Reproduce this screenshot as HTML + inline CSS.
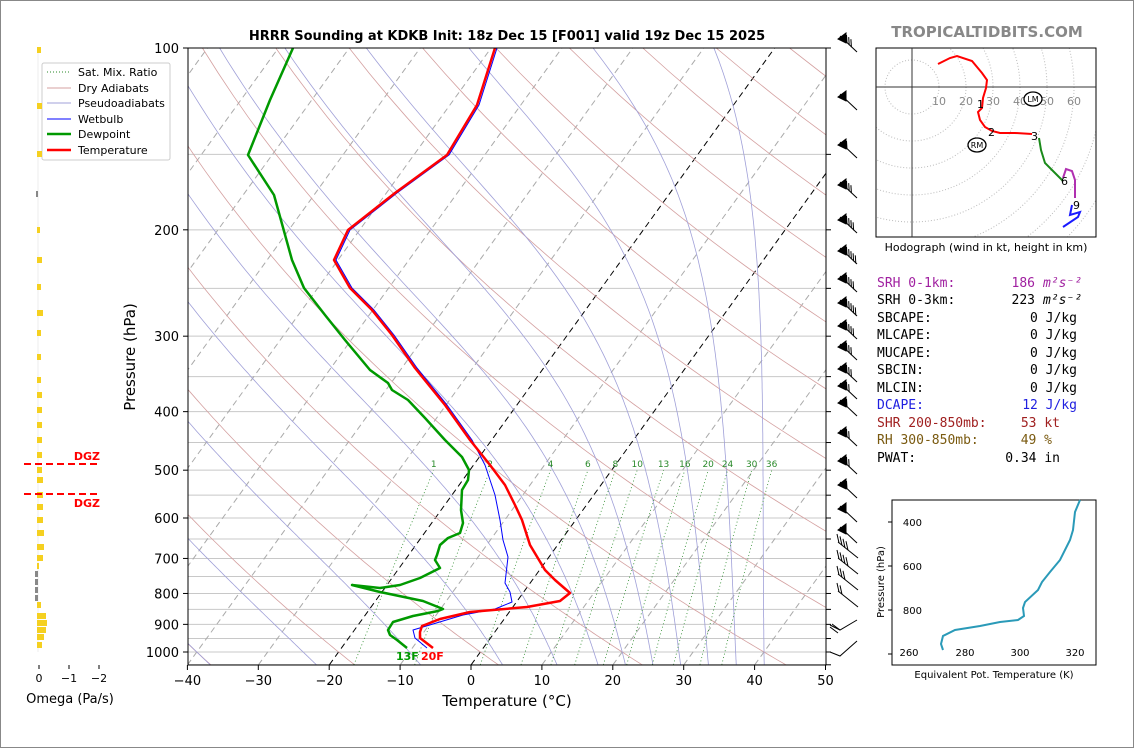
<!DOCTYPE html>
<html><head><meta charset="utf-8"><style>
body{margin:0;background:#fff;}
svg{display:block;font-family:"DejaVu Sans","Liberation Sans",sans-serif;}
</style></head><body>
<svg id="s" width="1134" height="748" viewBox="0 0 1134 748" xmlns="http://www.w3.org/2000/svg">
<rect x="0.5" y="0.5" width="1133" height="747" fill="#fff" stroke="#888"/>
<defs><clipPath id="cp"><rect x="188" y="48" width="638" height="617"/></clipPath></defs>
<g id="bg" clip-path="url(#cp)"></g>
<g clip-path="url(#cp)" fill="none" stroke-linejoin="round">
<polyline stroke="#0000ff" stroke-width="1" points="497,48 479,105 449,155 397,193 350,230 336,260 352,288 374,310 394,335 417,368 447,405 472,440 485,465 495,495 500,520 503,540 508,557 505,583 510,592 512,602 495,609 463,615 413,630 415,638 427,648"/>
<polyline stroke="#009900" stroke-width="2.5" points="293,48 270,100 248,155 274,195 292,260 304,288 325,315 345,340 370,370 388,383 392,390 408,400 425,418 445,440 462,457 469,470 468,480 462,490 461,510 463,523 460,533 448,538 440,545 437,555 435,560 440,568 420,578 400,585 380,588 352,585 380,592 423,601 443,609 438,611 413,616 393,622 388,630 390,635 397,640 407,648"/>
<polyline stroke="#ff0000" stroke-width="2.5" points="495,48 477,105 447,155 395,193 348,230 334,260 350,288 372,310 392,335 415,368 445,405 470,440 490,465 505,485 515,505 522,520 530,545 545,570 555,580 570,593 560,601 527,607 470,612 440,619 422,626 420,632 420,638 433,648"/>
</g>
<rect x="188" y="48" width="638" height="617" fill="none" stroke="#000" stroke-width="1"/>
<g id="ax" font-size="13" fill="#000"></g>
<text x="507" y="40" font-size="13" font-weight="bold" text-anchor="middle">HRRR Sounding at KDKB Init: 18z Dec 15 [F001] valid 19z Dec 15 2025</text>
<text x="507" y="706" font-size="15" text-anchor="middle">Temperature (°C)</text>
<text transform="translate(135,357) rotate(-90)" font-size="15" text-anchor="middle">Pressure (hPa)</text>
<text x="396" y="660" font-size="11" font-weight="bold" fill="#009900">13F</text>
<text x="421" y="660" font-size="11" font-weight="bold" fill="#ff0000">20F</text>
<g font-size="11">
<rect x="42" y="63" width="128" height="97" fill="#fff" stroke="#ccc" rx="2"/>
<line x1="47" y1="72" x2="71" y2="72" stroke="#2a8a2a" stroke-dasharray="1,2"/><text x="78" y="76">Sat. Mix. Ratio</text>
<line x1="47" y1="88" x2="71" y2="88" stroke="#d4a0a0"/><text x="78" y="92">Dry Adiabats</text>
<line x1="47" y1="103" x2="71" y2="103" stroke="#a0a0d8"/><text x="78" y="107">Pseudoadiabats</text>
<line x1="47" y1="119" x2="71" y2="119" stroke="#0000ff"/><text x="78" y="123">Wetbulb</text>
<line x1="47" y1="134" x2="71" y2="134" stroke="#009900" stroke-width="2.5"/><text x="78" y="138">Dewpoint</text>
<line x1="47" y1="150" x2="71" y2="150" stroke="#ff0000" stroke-width="2.5"/><text x="78" y="154">Temperature</text>
</g>
<g id="om"></g>
<line x1="24" y1="464" x2="99" y2="464" stroke="#f00" stroke-width="2" stroke-dasharray="7,4"/>
<line x1="24" y1="494" x2="99" y2="494" stroke="#f00" stroke-width="2" stroke-dasharray="7,4"/>
<text x="100" y="460" font-size="11" font-weight="bold" fill="#f00" text-anchor="end">DGZ</text>
<text x="100" y="507" font-size="11" font-weight="bold" fill="#f00" text-anchor="end">DGZ</text>
<g font-size="11" text-anchor="middle"><line x1="39" y1="665" x2="39" y2="669" stroke="#000"/><line x1="69" y1="665" x2="69" y2="669" stroke="#000"/><line x1="99" y1="665" x2="99" y2="669" stroke="#000"/>
<text x="39" y="682">0</text><text x="69" y="682">−1</text><text x="99" y="682">−2</text></g>
<text x="70" y="703" font-size="13" text-anchor="middle">Omega (Pa/s)</text>
<g id="barbs" stroke="#000" stroke-width="1" fill="#000"></g>
<text x="987" y="37" font-size="15" font-weight="bold" fill="#888" text-anchor="middle">TROPICALTIDBITS.COM</text>
<svg x="876" y="48" width="220" height="189" overflow="hidden"><g id="rings" fill="none" stroke="#bbb" stroke-dasharray="1,2"></g></svg>
<rect x="876" y="48" width="220" height="189" fill="none" stroke="#000"/>
<line x1="912" y1="48" x2="912" y2="237" stroke="#333"/><line x1="876" y1="87" x2="1096" y2="87" stroke="#333"/>
<g font-size="11" fill="#888" text-anchor="middle"><text x="939" y="105">10</text><text x="966" y="105">20</text><text x="993" y="105">30</text><text x="1020" y="105">40</text><text x="1047" y="105">50</text><text x="1074" y="105">60</text></g>
<g fill="none" stroke-width="2">
<polyline stroke="#f00" points="938,64 950,58 957,56 972,61 982,73 987,80 986,88 983,98 982,108 978,112 980,120 985,127 992,131 1000,133 1015,133 1032,134"/>
<polyline stroke="#1a8a1a" points="1039,138 1041,150 1045,163 1056,174 1063,181"/>
<polyline stroke="#b030b0" points="1063,178 1066,169 1072,171 1075,180 1075,198"/>
<polyline stroke="#1a1aff" points="1072,205 1070,215 1080,212 1078,217 1063,227"/>
</g>
<g font-size="11"><text x="977" y="108">1</text><text x="988" y="136">2</text><text x="1031" y="140">3</text><text x="1061" y="185">6</text><text x="1073" y="209">9</text></g>
<ellipse cx="1033" cy="99" rx="9" ry="7" fill="#fff" stroke="#000" stroke-width="1.3"/><text x="1033" y="102" font-size="8" text-anchor="middle">LM</text>
<ellipse cx="977" cy="145" rx="9" ry="7" fill="#fff" stroke="#000" stroke-width="1.3"/><text x="977" y="148" font-size="8" text-anchor="middle">RM</text>
<text x="986" y="251" font-size="11" text-anchor="middle">Hodograph (wind in kt, height in km)</text>
<g font-family="'DejaVu Sans Mono','Liberation Mono',monospace" font-size="13">
<text x="877" y="287" fill="#a020a0">SRH 0-1km:</text><text x="1035" y="287" fill="#a020a0" text-anchor="end">186</text><text x="1043" y="287" fill="#a020a0" font-style="italic">m²s⁻²</text>
<text x="877" y="304">SRH 0-3km:</text><text x="1035" y="304" text-anchor="end">223</text><text x="1043" y="304" font-style="italic">m²s⁻²</text>
<text x="877" y="322">SBCAPE:</text><text x="1077" y="322" text-anchor="end">0 J/kg</text>
<text x="877" y="339">MLCAPE:</text><text x="1077" y="339" text-anchor="end">0 J/kg</text>
<text x="877" y="357">MUCAPE:</text><text x="1077" y="357" text-anchor="end">0 J/kg</text>
<text x="877" y="374">SBCIN:</text><text x="1077" y="374" text-anchor="end">0 J/kg</text>
<text x="877" y="392">MLCIN:</text><text x="1077" y="392" text-anchor="end">0 J/kg</text>
<text x="877" y="409" fill="#2020e0">DCAPE:</text><text x="1077" y="409" fill="#2020e0" text-anchor="end">12 J/kg</text>
<text x="877" y="427" fill="#a02020">SHR 200-850mb:</text><text x="1060" y="427" fill="#a02020" text-anchor="end">53 kt</text>
<text x="877" y="444" fill="#7a5a10">RH 300-850mb:</text><text x="1052" y="444" fill="#7a5a10" text-anchor="end">49 %</text>
<text x="877" y="462">PWAT:</text><text x="1060" y="462" text-anchor="end">0.34 in</text>
</g>
<rect x="892" y="500" width="204" height="165" fill="#fff" stroke="#000"/>
<polyline fill="none" stroke="#2a9ab8" stroke-width="2" points="1080,500 1075,512 1073,530 1070,540 1060,560 1050,572 1042,582 1038,590 1025,602 1023,608 1024,616 1018,620 1000,622 980,626 955,630 943,636 941,644 943,650"/>
<g font-size="10" text-anchor="end"><text x="922" y="526">400</text><text x="922" y="570">600</text><text x="922" y="614">800</text>
<line x1="888" y1="522" x2="892" y2="522" stroke="#000"/><line x1="888" y1="566" x2="892" y2="566" stroke="#000"/><line x1="888" y1="610" x2="892" y2="610" stroke="#000"/><line x1="888" y1="654" x2="892" y2="654" stroke="#000"/></g>
<g font-size="10" text-anchor="middle"><text x="909" y="656">260</text><text x="965" y="656">280</text><text x="1020" y="656">300</text><text x="1075" y="656">320</text></g>
<text x="994" y="678" font-size="10" text-anchor="middle">Equivalent Pot. Temperature (K)</text>
<text transform="translate(884,582) rotate(-90)" font-size="10" text-anchor="middle">Pressure (hPa)</text>
</svg>
<script>
(function(){
var NS="http://www.w3.org/2000/svg";
function el(p,t,a){var e=document.createElementNS(NS,t);for(var k in a)e.setAttribute(k,a[k]);p.appendChild(e);return e;}
function Y(p){return 48+604*Math.log10(p/100);}
function X(T,p){return 471+7.09*T+0.722*(665-Y(p));}
var bg=document.getElementById('bg');
for(var p=100;p<=1050;p+=50){el(bg,'line',{x1:188,x2:826,y1:Y(p),y2:Y(p),stroke:'#c8c8c8','stroke-width':1});}
for(var T=-120;T<=50;T+=10){var a=X(T,1050),b=X(T,100);
 var blk=(T==0||T==-20);
 el(bg,'line',{x1:a,y1:Y(1050),x2:b,y2:Y(100),stroke:blk?'#000':'#aaa','stroke-width':1,'stroke-dasharray':'6,4'});}
function pl(pts,attr){attr.points=pts.map(function(q){return q[0].toFixed(1)+','+q[1].toFixed(1)}).join(' ');attr.fill='none';el(bg,'polyline',attr);}
for(var th=-40;th<=220;th+=20){var pts=[];for(var p=1050;p>=100;p-=10){var T=(th+273.15)*Math.pow(p/1000,0.286)-273.15;pts.push([X(T,p),Y(p)]);}pl(pts,{stroke:'#d4a0a0','stroke-width':0.8});}
function es(T){return 6.112*Math.exp(17.67*T/(T+243.5));}
function gam(T,p){var Tk=T+273.15,e=es(T),r=0.622*e/(p-e),L=2.5e6,Rd=287,cp=1004,eps=0.622;
 var num=(Rd*Tk+L*r)/(cp+L*L*r*eps/(Rd*Tk*Tk));return num/p;}
[-40,-25,-10,2,10,16,20,24,28,32,36,40].forEach(function(T0){var T=T0,pts=[[X(T,1000),Y(1000)]];
 var Td=T0,pts2=[];for(var p=1000;p<1050;p+=5){Td+=gam(Td,p)*5;pts2.push([X(Td,p+5),Y(p+5)]);}
 for(var p=1000;p>100;p-=5){T-=gam(T,p)*5;pts.push([X(T,p-5),Y(p-5)]);}
 pl(pts2.reverse().concat(pts),{stroke:'#a0a0d8','stroke-width':0.8});});
var ws=[1,2,4,6,8,10,13,16,20,24,30,36];
for(var i=0;i<ws.length;i++){var w=ws[i],pts=[];for(var p=1050;p>=500;p-=25){var e=w*p/(622+w),l=Math.log(e/6.112),T=243.5*l/(17.67-l);pts.push([X(T,p),Y(p)]);}
 pl(pts,{stroke:'#2a8a2a','stroke-width':0.8,'stroke-dasharray':'1,2.5'});
 var q=pts[pts.length-1];var t=el(bg,'text',{x:q[0],y:q[1]-3,'font-size':9,fill:'#2a8a2a','text-anchor':'middle'});t.textContent=w;}
var ax=document.getElementById('ax');
[100,200,300,400,500,600,700,800,900,1000].forEach(function(p){var y=Y(p);el(ax,'line',{x1:183,x2:188,y1:y,y2:y,stroke:'#000'});el(ax,'line',{x1:826,x2:831,y1:y,y2:y,stroke:'#000'});
 var t=el(ax,'text',{x:179,y:y+5,'text-anchor':'end'});t.textContent=p;});
for(var p=150;p<=1050;p+=100){var y=Y(p);el(ax,'line',{x1:826,x2:831,y1:y,y2:y,stroke:'#000'});}
for(var T=-40;T<=50;T+=10){var x=471+7.09*T;el(ax,'line',{x1:x,x2:x,y1:665,y2:670,stroke:'#000'});var t=el(ax,'text',{x:x,y:685,'text-anchor':'middle'});t.textContent=(T<0?'\u2212'+(-T):T);}
var om=document.getElementById('om');
el(om,'line',{x1:38,x2:38,y1:48,y2:652,stroke:'#ddd','stroke-width':0.5});
var bars=[[50,3],[106,4],[154,4],[194,-1],[230,2],[260,4],[287,3],[313,5],[333,3],[357,3],[380,3],[395,4],[410,4],[425,4],[440,4],[455,4],[470,4],[480,5],[495,5],[507,5],[520,5],[533,6],[547,6],[558,5],[566,1],[574,-2],[582,-2],[590,-2],[598,-2],[605,3],[616,8],[623,9],[630,8],[637,6],[645,4]];
bars.forEach(function(b){var w=b[1];el(om,'rect',{x:w>=0?37:37+w,y:b[0]-3,width:Math.abs(w)+1,height:6,fill:w>=0?'#f5d020':'#888'});});
var g=document.getElementById('barbs');
var fl=[40,98,146,186,221,252,280,304,327,348,370,387,404,434,462,486,510,531];
var nt=[3,0,1,3,4,5,4,5,4,3,3,2,1,2,2,1,0,0];
fl.forEach(function(y,i){el(g,'line',{x1:840,y1:y-4,x2:857,y2:y+12});el(g,'polygon',{points:'838,'+(y-1)+' 846,'+(y-7)+' 846,'+(y+3)});
 for(var k=0;k<nt[i];k++){var sx=847+k*2.2,sy=y+3+k*2.1;el(g,'line',{x1:sx,y1:sy,x2:sx-0.5,y2:sy-8});}});
[548,564,580,597].forEach(function(y,i){el(g,'line',{x1:838,y1:y-6,x2:858,y2:y+10});for(var k=0;k<[4,4,3,2][i];k++){var sx=838+k*3,sy=y-6+k*2.4;el(g,'line',{x1:sx+1,y1:sy+1,x2:sx-1,y2:sy-8});}});
el(g,'polyline',{points:'857,620 840,630 830,625',fill:'none'});el(g,'line',{x1:830,y1:627,x2:838,y2:633});el(g,'line',{x1:832,y1:624,x2:840,y2:630});
el(g,'polyline',{points:'857,641 840,656 830,652',fill:'none'});
var r=document.getElementById('rings');for(var k=1;k<=9;k++)el(r,'circle',{cx:36,cy:39,r:k*27});
})();
</script>
</body></html>
